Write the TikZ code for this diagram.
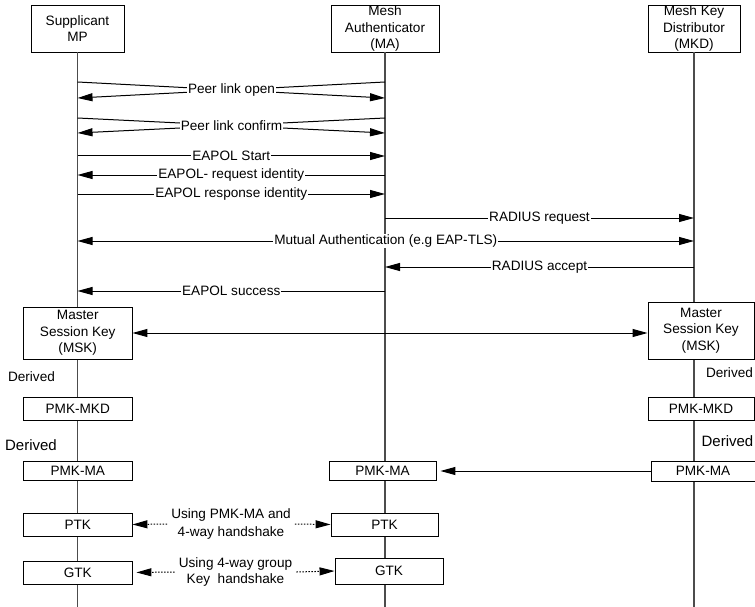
\documentclass[tikz,border=0pt]{standalone}
\usepackage{fontspec}
\setmainfont{Liberation Sans}
\usetikzlibrary{arrows.meta, positioning}

\begin{document}
\begin{tikzpicture}[
    x=1pt, y=-1pt,
    font=\fontsize{13.6pt}{16.5pt}\selectfont,
    base/.style={draw, line width=0.9pt, align=center, inner sep=0.5pt},
    actor/.style={base, minimum height=47pt},
    keybox/.style={base, fill=white, minimum width=108.5pt, minimum height=23pt},
    lifeline/.style={line width=1.2pt, black!70},
    msg/.style={-{Triangle[length=15pt, width=8pt]}, line width=1pt},
    twoway/.style={{Triangle[length=15pt, width=8pt]}-{Triangle[length=15pt, width=8pt]}, line width=1pt},
    dotmsg/.style={msg, dash pattern=on 1.5pt off 1.5pt},
    msglabel/.style={fill=white, inner sep=1pt},
    bigtext/.style={font=\fontsize{15pt}{18pt}\selectfont}
]
\useasboundingbox (0,0) rectangle (755,607);

    % participants and life lines
    \node [actor, minimum width=93pt] (sup) at (77.5,28.5) {Supplicant\\MP};
    \node [actor, minimum width=108pt] (ma) at (385,28.5) {Mesh\\Authenticator\\(MA)};
    \node [actor, minimum width=92pt] (mkd) at (694,28.5) {Mesh Key\\Distributor\\(MKD)};

    \draw [lifeline] (sup.south) -- (sup |- 0,607);
    \draw [lifeline] (ma.south) -- (ma |- 0,607);
    \draw [lifeline] (mkd.south) -- (mkd |- 0,607);

    % peer link set up
    \draw [msg] (sup |- 0,82) -- (ma |- 0,98);
    \draw [msg] (ma |- 0,82) -- (sup |- 0,98);
    \node [msglabel] (open) at (231.5,90) {Peer link open};
    \draw [msg] (sup |- 0,118) -- (ma |- 0,133);
    \draw [msg] (ma |- 0,118) -- (sup |- 0,133);
    \node [msglabel] (confirm) at (231.5,125.5) {Peer link confirm};

    % authentication
    \draw [msg] (sup |- 0,156) -- node [msglabel] (start) {EAPOL Start} (ma |- 0,156);
    \draw [msg] (ma |- 0,175) -- node [msglabel] (reqid) {EAPOL- request identity} (sup |- 0,175);
    \draw [msg] (sup |- 0,194) -- node [msglabel] (respid) {EAPOL response identity} (ma |- 0,194);
    \draw [msg] (ma |- 0,218) -- node [msglabel] (radreq) {RADIUS request} (mkd |- 0,218);
    \draw [twoway] (sup |- 0,241) -- node [msglabel] (mutual) {Mutual Authentication (e.g EAP-TLS)} (mkd |- 0,241);
    \draw [msg] (mkd |- 0,267) -- node [msglabel] (radacc) {RADIUS accept} (ma |- 0,267);
    \draw [msg] (ma |- 0,291) -- node [msglabel] (success) {EAPOL success} (sup |- 0,291);

    % key hierarchy
    \node [keybox, minimum height=52pt] (mskS) at (77.75,333) {Master\\Session Key\\(MSK)};
    \node [keybox, minimum width=106pt, minimum height=57pt] (mskK) at (701,330.5) {Master\\Session Key\\(MSK)};
    \draw [twoway] (mskS.east) -- (mskS.east -| mskK.west);

    \node (derS) at (31.5,377) {Derived};
    \node (derK) at (729.5,373) {Derived};

    \node [keybox] (pmkmkdS) at (77.75,408.5) {PMK-MKD};
    \node [keybox, minimum width=106pt] (pmkmkdK) at (701,408.5) {PMK-MKD};

    \node [bigtext] (derS2) at (31,445) {Derived};
    \node [bigtext] (derK2) at (727.5,441) {Derived};

    \node [keybox, minimum height=19pt] (pmkmaS) at (77.75,471) {PMK-MA};
    \node [keybox, minimum width=107pt, minimum height=19pt] (pmkmaA) at (382.5,470.5) {PMK-MA};
    \node [keybox, minimum width=104pt, minimum height=20pt] (pmkmaK) at (703,471) {PMK-MA};
    \draw [msg, shorten >=4pt] (pmkmaK.west) -- (pmkmaK.west -| pmkmaA.east);

    \node [keybox] (ptkS) at (77.75,524.5) {PTK};
    \node [keybox, minimum width=107pt] (ptkA) at (384.5,524.5) {PTK};
    \node [align=center, inner xsep=4pt, font=\fontsize{13.6pt}{17.5pt}\selectfont] (ptkTxt) at (231,524) {Using PMK-MA and\\4-way handshake};
    \draw [dotmsg] (ptkTxt.west) -- (ptkS.east);
    \draw [dotmsg] (ptkTxt.east) -- (ptkA.west);

    \node [keybox] (gtkS) at (77.75,572.5) {GTK};
    \node [keybox, minimum width=108pt, minimum height=26pt] (gtkA) at (389,571) {GTK};
    \node [align=center, inner xsep=4pt] (gtkTxt) at (235.5,572) {Using 4-way group\\Key~~handshake};
    \draw [dotmsg, shorten >=4pt] (gtkTxt.west) -- (gtkS.east);
    \draw [dotmsg] (gtkTxt.east) -- (gtkA.west);

\end{tikzpicture}
\end{document}
